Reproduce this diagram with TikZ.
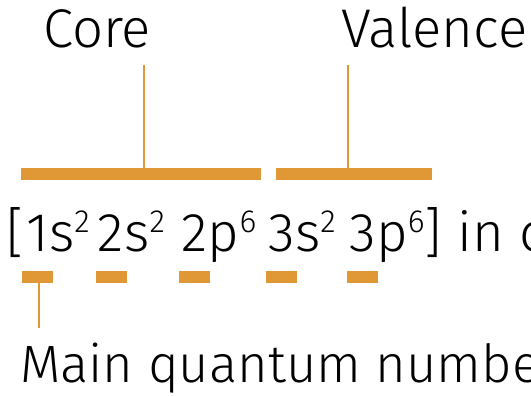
\documentclass[tikz,border=0pt]{standalone}
\usepackage{fontspec}
\setmainfont{Fira Sans Light}
\usepackage{xcolor}
\usepackage{tikz}
\usetikzlibrary{positioning, calc}
\definecolor{amber}{RGB}{224,152,54}
\newcommand{\supnum}[1]{\raisebox{19pt}{\fontsize{32}{36}\selectfont #1}}
\tikzset{
  lbl/.style  = {inner sep=0pt, anchor=base west,
                 font=\fontsize{54.5}{60}\selectfont},
  digit/.style = {lbl, anchor=base},
  bar/.style  = {fill=amber, draw=none, minimum height=12pt,
                 inner sep=0pt},
  dashbox/.style = {fill=amber, draw=none, minimum width=31pt,
                 minimum height=12pt, inner sep=0pt},
  tick/.style = {draw=amber, line width=2.5pt},
}
\begin{document}
\begin{tikzpicture}[x=1pt, y=1pt]
  \useasboundingbox (0,0) rectangle (531,396);
  \clip (0,0) rectangle (531,396);

  % Top labels
  \node[lbl] (core) at (43,348)  {Core};
  \node[lbl] (val)  at (341,348) {Valence};

  % Shell bars
  \node[bar, minimum width=240pt] (corebar) at (141,222) {};
  \node[bar, minimum width=156pt] (valbar)  at (354,222) {};
  \draw[tick] ([xshift=3pt]corebar.north) -- ++(0,103);
  \draw[tick] ([xshift=-6pt]valbar.north) -- ++(0,103);

  % Configuration: main quantum numbers, then orbital and occupation
  \foreach \i/\x/\n in {1/37.5/1, 2/111/2, 3/194.5/2, 4/281.5/3, 5/362.5/3}
    \node[digit] (n\i) at (\x,144) {\n};
  \node[lbl] (o1) at (n1.base east) {s\supnum{2}};
  \node[lbl] (o2) at (n2.base east) {s\supnum{2}};
  \node[lbl] (o3) at (n3.base east) {p\supnum{6}};
  \node[lbl] (o4) at (n4.base east) {s\supnum{2}};
  \node[lbl] (o5) at (n5.base east) {p\supnum{6}};
  \node[lbl, anchor=base east] (ob) at ([xshift=-2pt]n1.base west) {[};
  \node[lbl] (cb) at (o5.base east) {] in c};

  % Main quantum number marks
  \foreach \i in {1,...,5}
    \node[dashbox] (d\i) at ([yshift=-25pt]n\i.base) {};
  \draw[tick] ([xshift=1.5pt]d1.south) -- ++(0,-45);
  \node[lbl, font=\fontsize{52.5}{60}\selectfont] (main) at (20,13)
    {Main quantum number};
\end{tikzpicture}
\end{document}
